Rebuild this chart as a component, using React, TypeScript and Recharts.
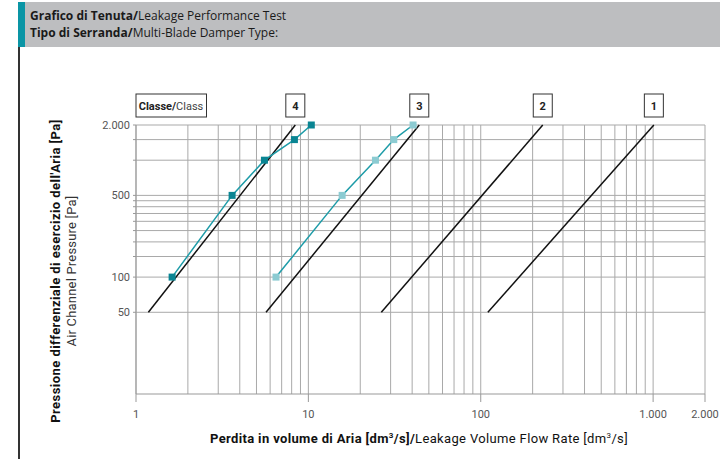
import { LineChart, Line, XAxis, YAxis, CartesianGrid, ReferenceDot } from "recharts";

// measured leakage curves (flow in dm³/s, pressure in Pa)
const pressureSteps = [100, 500, 1000, 1500, 2000];
const damperAFlow = [1.62, 3.61, 5.56, 8.3, 10.4];
const damperBFlow = [6.49, 15.7, 24.5, 31.3, 40.5];

// class limit lines, from 50 Pa to 2000 Pa
const classPressure = [50, 2000];
const classNames = ["4", "3", "2", "1"];
const classFlows = [
  [1.18, 8.4],
  [5.68, 44],
  [26.5, 229],
  [110, 1010],
];

const xTicks = [1, 10, 100, 1000, 2000];
const yTicks = [50, 100, 150, 200, 250, 300, 350, 400, 450, 500, 1000, 1500, 2000];
const yLabelled = [50, 100, 500, 2000];
const xGrid = [
  1, 2, 3, 4, 5, 6, 7, 8, 9, 10, 20, 30, 40, 50, 60, 70, 80, 90, 100, 200, 300, 400, 500, 600, 700,
  800, 900, 1000, 2000,
];
const yGrid = [50, 100, 150, 200, 250, 300, 350, 400, 450, 500, 1000, 1500, 2000];

const damperA = damperAFlow.map((x, i) => ({ x, y: pressureSteps[i] }));
const damperB = damperBFlow.map((x, i) => ({ x, y: pressureSteps[i] }));
const classLines = classFlows.map((f) => f.map((x, i) => ({ x, y: classPressure[i] })));

const fmt = (v: number) => (v >= 1000 ? v.toLocaleString("de-DE") : String(v));

const squareDot = (fill: string, tag: string) => (props: any) => {
  const { cx, cy, index } = props;
  if (cx == null || cy == null) return <g key={`${tag}-${index}`} />;
  return <rect key={`${tag}-${index}`} x={cx - 3.5} y={cy - 3.5} width={7} height={7} fill={fill} />;
};

const classBox = (label: string) => (props: any) => {
  const { cx, cy } = props;
  return (
    <g>
      <rect x={cx - 9.5} y={cy - 31} width={19} height={23} fill="#fff" stroke="#333" strokeWidth={1} />
      <text x={cx} y={cy - 15.5} textAnchor="middle" fontSize={11} fontWeight={700} fill="#222" fontFamily="Roboto">
        {label}
      </text>
    </g>
  );
};

const classTitle = (props: any) => {
  const { cx, cy } = props;
  return (
    <g>
      <rect x={cx} y={cy - 31} width={70.5} height={23} fill="#fff" stroke="#333" strokeWidth={1} />
      <text x={cx + 35} y={cy - 15.5} textAnchor="middle" fontSize={11} fill="#222" fontFamily="Roboto">
        <tspan fontWeight={700}>Classe/</tspan>
        <tspan fill="#444">Class</tspan>
      </text>
    </g>
  );
};

export default function App() {
  return (
    <div style={{ position: "absolute", left: 0, top: 0, width: 720, height: 459, background: "#fff", overflow: "hidden" }}>
      <div
        style={{
          position: "absolute",
          left: 18,
          top: 2,
          width: 702,
          height: 45,
          background: "#bdbec0",
          borderLeft: "7px solid #0a95a5",
          boxSizing: "border-box",
          fontFamily: "'Open Sans'",
          fontSize: 12,
          color: "#1a1a1a",
          lineHeight: "16.5px",
          padding: "6px 0 0 5px",
        }}
      >
        <div>
          <b>Grafico di Tenuta/</b>Leakage Performance Test
        </div>
        <div>
          <b>Tipo di Serranda/</b>Multi-Blade Damper Type:
        </div>
      </div>
      <div style={{ position: "absolute", left: 18, top: 47, width: 1.5, height: 412, background: "#333" }} />

      <div style={{ position: "absolute", left: 0, top: 0 }}>
        <LineChart width={720} height={459} margin={{ top: 125, right: 15, bottom: 35, left: 76 }}>
          <CartesianGrid
            stroke="#a9a9a9"
            strokeWidth={1}
            horizontalValues={yGrid}
            verticalValues={xGrid}
          />
          <XAxis
            dataKey="x"
            type="number"
            scale="log"
            domain={[1, 2000]}
            ticks={xTicks}
            interval={0}
            tickFormatter={fmt}
            height={30}
            tickSize={8}
            tickMargin={8}
            stroke="#999"
            tick={{ fill: "#555", fontSize: 11, fontFamily: "Roboto" }}
          />
          <YAxis
            dataKey="y"
            type="number"
            scale="log"
            domain={[10, 2000]}
            ticks={yTicks}
            interval={0}
            tickFormatter={(v: number) => (yLabelled.includes(v) ? fmt(v) : "")}
            width={60}
            tickSize={3}
            tickMargin={3}
            stroke="#999"
            tick={{ fill: "#555", fontSize: 11, fontFamily: "Roboto" }}
          />
          {classLines.map((d, i) => (
            <Line
              key={`class-${i}`}
              data={d}
              dataKey="y"
              stroke="#111"
              strokeWidth={1.5}
              dot={false}
              isAnimationActive={false}
            />
          ))}
          <Line
            data={damperA}
            dataKey="y"
            stroke="#1e9ca8"
            strokeWidth={1.5}
            dot={squareDot("#0a8593", "a")}
            isAnimationActive={false}
          />
          <Line
            data={damperB}
            dataKey="y"
            stroke="#1e9ca8"
            strokeWidth={1.5}
            dot={squareDot("#8ccbd2", "b")}
            isAnimationActive={false}
          />
          <ReferenceDot x={1} y={2000} r={0} ifOverflow="visible" shape={classTitle} />
          {classNames.map((name, i) => (
            <ReferenceDot
              key={`box-${name}`}
              x={classFlows[i][1]}
              y={2000}
              r={0}
              ifOverflow="visible"
              shape={classBox(name)}
            />
          ))}
        </LineChart>
      </div>

      <div
        style={{
          position: "absolute",
          left: 0,
          top: 431,
          width: 838,
          textAlign: "center",
          fontFamily: "Roboto",
          fontSize: 13,
          letterSpacing: 0.35,
          color: "#111",
          whiteSpace: "nowrap",
        }}
      >
        <b>
          Perdita in volume di Aria [dm<sup style={{ fontSize: 8 }}>3</sup>/s]/
        </b>
        Leakage Volume Flow Rate [dm<sup style={{ fontSize: 8 }}>3</sup>/s]
      </div>
      <div
        style={{
          position: "absolute",
          left: 66 - 200,
          top: 271 - 18,
          width: 400,
          height: 36,
          transform: "rotate(-90deg)",
          textAlign: "center",
          fontFamily: "Roboto",
          fontSize: 13,
          lineHeight: "16px",
          color: "#111",
          whiteSpace: "nowrap",
        }}
      >
        <div style={{ fontWeight: 700, letterSpacing: 0.45 }}>Pressione differenziale di esercizio dell'Aria [Pa]</div>
        <div style={{ color: "#333", letterSpacing: 0.2 }}>Air Channel Pressure [Pa]</div>
      </div>
    </div>
  );
}
